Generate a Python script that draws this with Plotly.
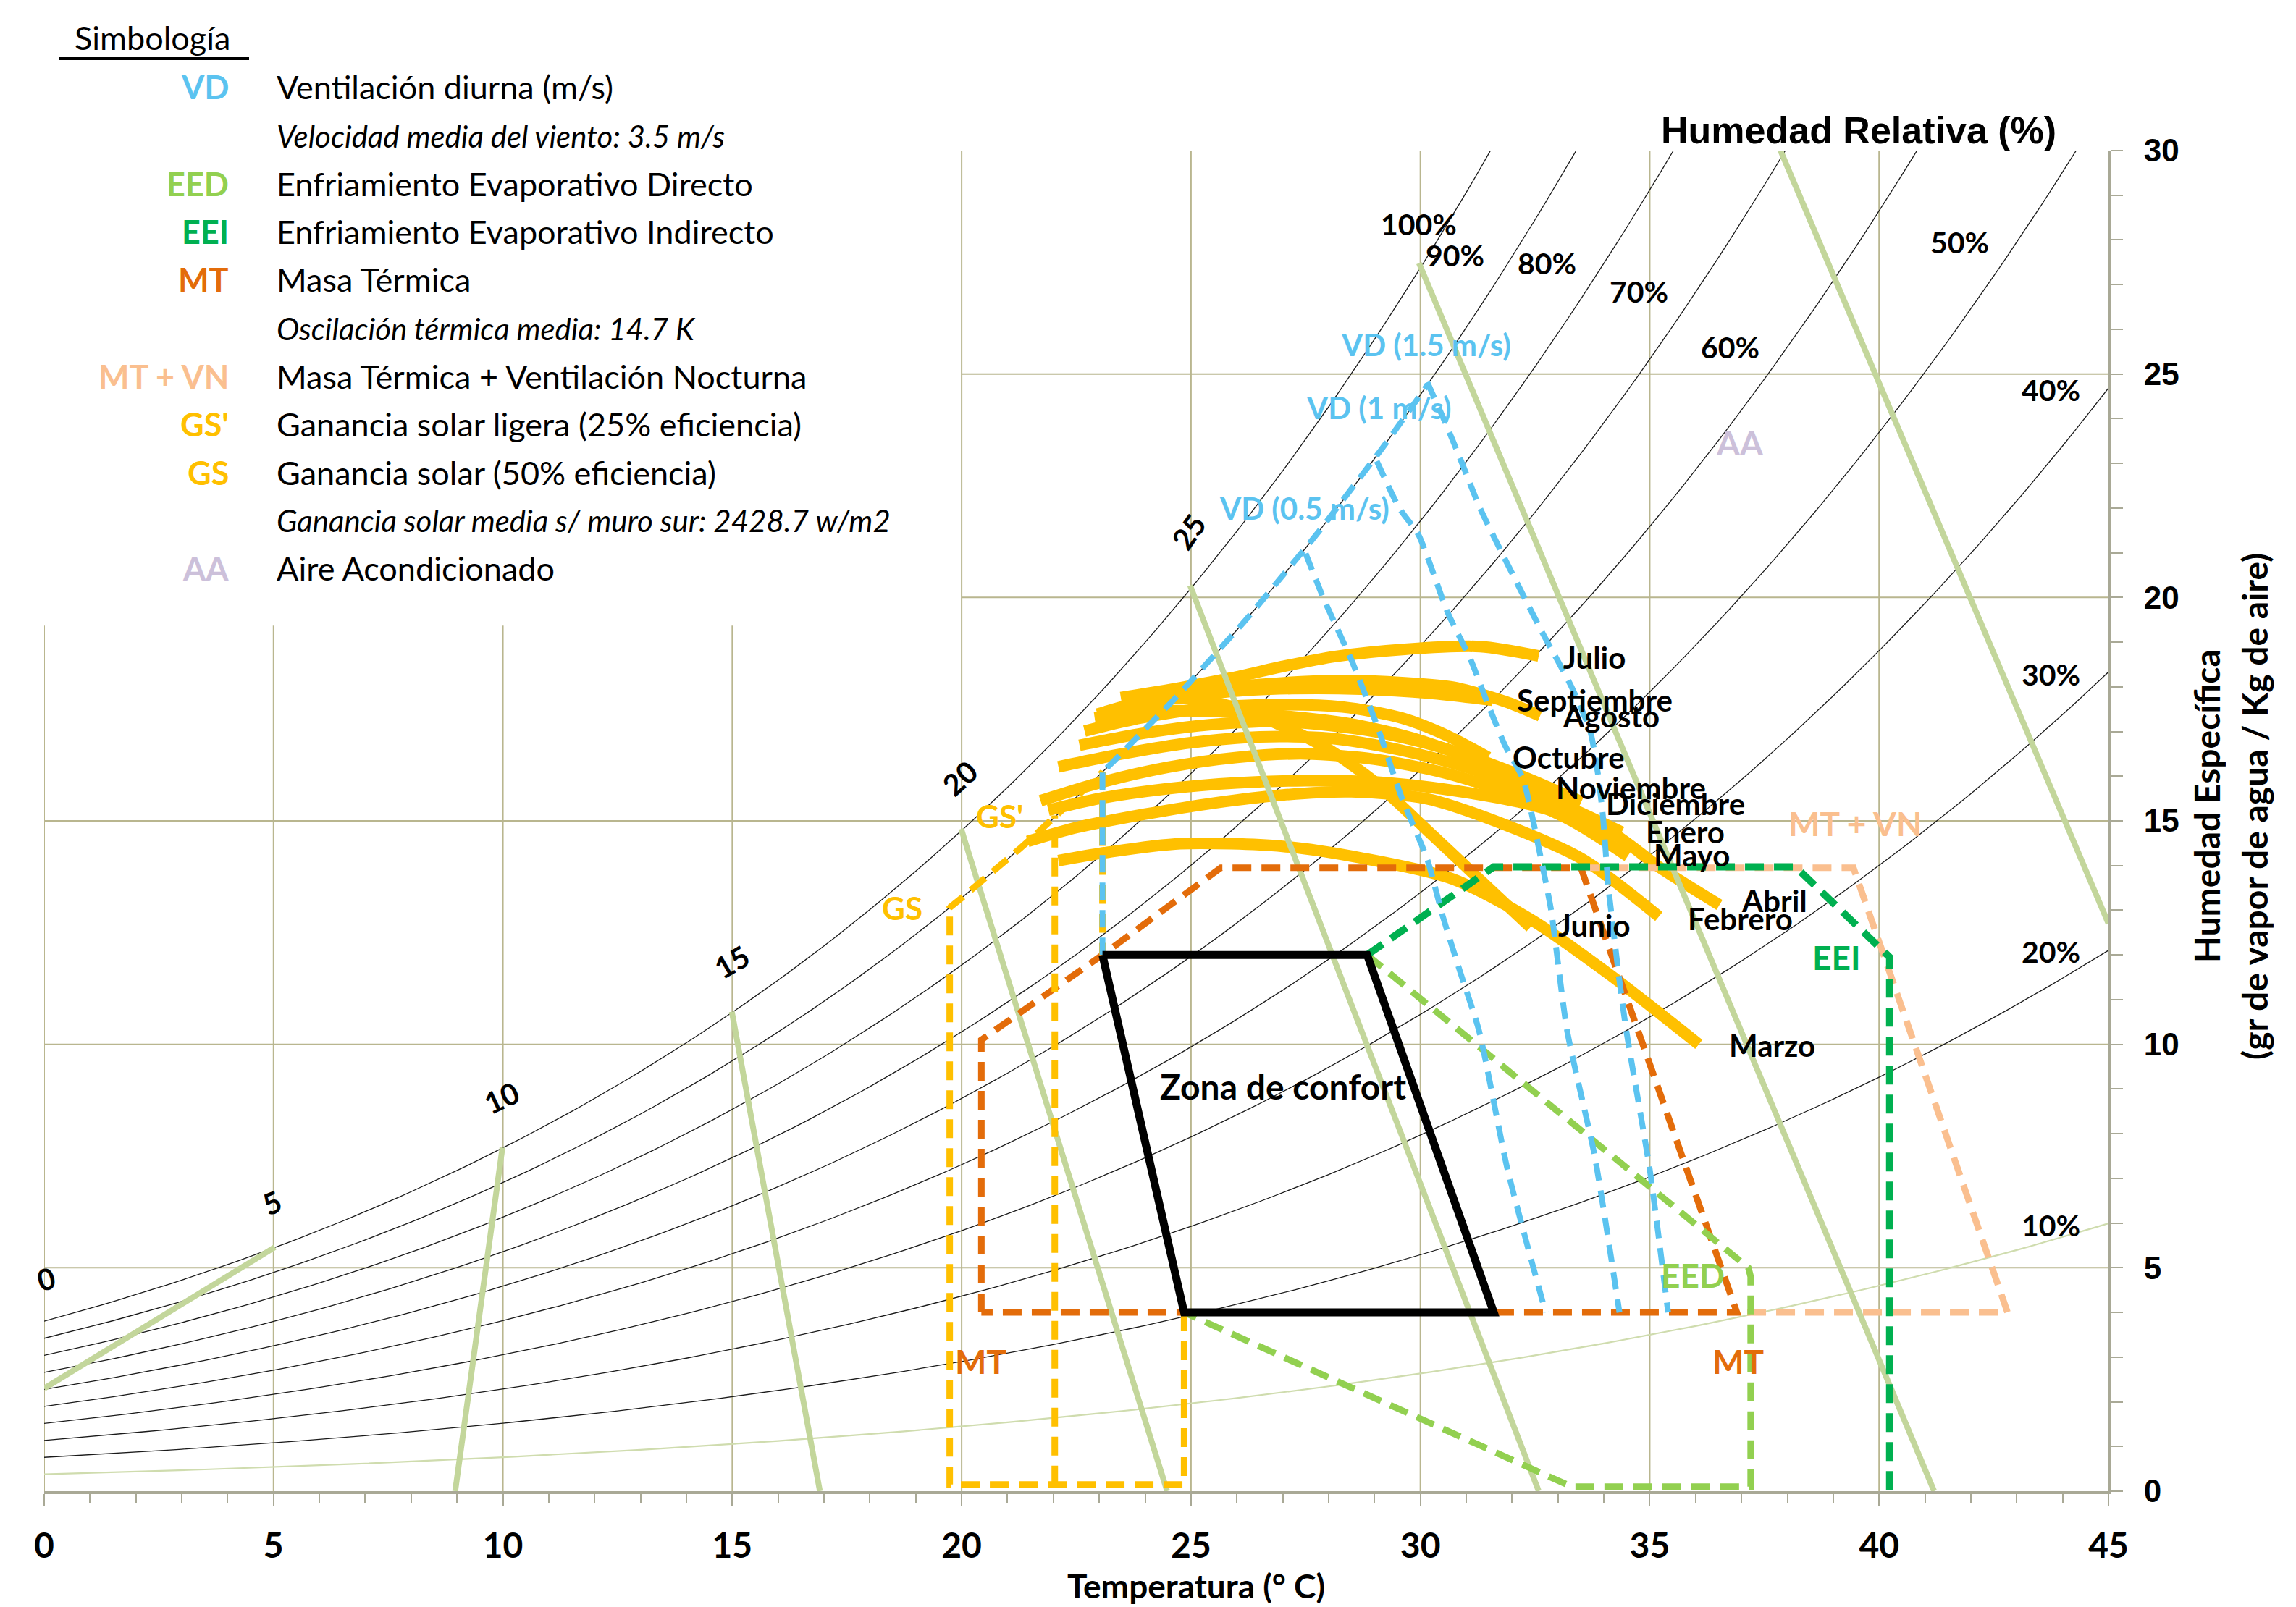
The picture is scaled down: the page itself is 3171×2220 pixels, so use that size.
import math
import plotly.graph_objects as go

# ---------------- psychrometric frame ----------------
PRESSURE_KPA = 100.5            # barometric pressure used for the humidity-ratio curves
RH_LEVELS = [10, 20, 30, 40, 50, 60, 70, 80, 90, 100]
RH_LABELS = ["10%", "20%", "30%", "40%", "50%", "60%", "70%", "80%", "90%", "100%"]
RH_LABEL_T = [43.74, 43.74, 43.74, 43.74, 41.76, 36.76, 34.76, 32.76, 30.76, 29.97]
RH_LABEL_W = [5.95, 12.07, 18.28, 24.65, 27.95, 25.6, 26.85, 27.48, 27.66, 28.35]

# Thick green reference lines (start / end points)
WB_T0 = [5.03, 9.99, 14.99, 19.99, 24.98, 29.97, 37.85]
WB_W0 = [5.46, 7.69, 10.73, 14.82, 20.27, 27.48, 30.0]
WB_T1 = [0.0, 8.96, 16.91, 24.48, 32.58, 41.2, 45.0]
WB_W1 = [2.3, 0.0, 0.0, 0.0, 0.0, 0.0, 12.7]
WB_LABELS = ["0", "5", "10", "15", "20", "25", "31"]
WB_LABEL_T = [0.05, 4.97, 9.97, 15.0, 19.97, 24.95, 30.98]
WB_LABEL_W = [4.75, 6.45, 8.8, 11.85, 15.96, 21.47, 30.04]
WB_LABEL_ANGLE = [-15, -22, -25, -30, -42, -55, 0]

# ---------------- monthly daily cycles (T °C, w g/kg) ----------------
JULIO_T = [23.47, 24.77, 25.89, 27.02, 28.15, 29.66, 31.3, 32.58]
JULIO_W = [17.76, 17.98, 18.2, 18.46, 18.68, 18.84, 18.9, 18.69]
AGOSTO_T = [23.5, 24.8, 26.46, 28.15, 29.66, 30.72, 31.85, 32.61]
AGOSTO_W = [17.66, 17.87, 18.05, 18.14, 18.09, 17.99, 17.67, 17.35]
SEPTIEMBRE_T = [23.2, 24.4, 25.7, 27.2, 28.7, 30.2, 31.57]
SEPTIEMBRE_W = [17.45, 17.7, 17.88, 17.96, 17.95, 17.86, 17.7]
OCTUBRE_T = [22.68, 23.9, 25.3, 26.8, 28.3, 29.6, 30.6, 31.48]
OCTUBRE_W = [17.01, 17.3, 17.52, 17.6, 17.55, 17.3, 16.9, 16.42]
NOVIEMBRE_T = [22.9, 24.1, 25.5, 27.0, 28.6, 30.0, 31.3, 32.42]
NOVIEMBRE_W = [17.3, 17.45, 17.45, 17.35, 17.15, 16.8, 16.3, 15.75]
DICIEMBRE_T = [22.57, 23.9, 25.4, 27.0, 29.0, 30.6, 32.1, 33.51]
DICIEMBRE_W = [16.69, 16.95, 17.15, 17.22, 17.0, 16.6, 16.05, 15.43]
ENERO_T = [22.11, 23.5, 25.0, 26.5, 28.0, 29.5, 31.0, 32.7, 34.39]
ENERO_W = [16.21, 16.5, 16.75, 16.88, 16.85, 16.6, 16.2, 15.55, 14.75]
FEBRERO_T = [21.44, 22.5, 24.0, 25.5, 27.0, 28.5, 30.16, 31.85, 33.54, 35.2]
FEBRERO_W = [14.54, 14.85, 15.15, 15.4, 15.58, 15.65, 15.49, 14.91, 14.14, 12.86]
MARZO_T = [22.11, 23.2, 24.77, 27.0, 28.71, 30.7, 32.4, 34.1, 36.07]
MARZO_W = [14.11, 14.3, 14.49, 14.43, 14.17, 13.7, 12.8, 11.58, 10.0]
ABRIL_T = [21.89, 23.0, 24.5, 26.0, 27.5, 29.03, 30.72, 32.41, 34.1, 35.23, 36.52]
ABRIL_W = [15.24, 15.5, 15.72, 15.85, 15.9, 15.87, 15.68, 15.36, 14.78, 13.95, 13.12]
MAYO_T = [21.72, 23.0, 24.5, 26.0, 27.5, 29.0, 30.5, 32.0, 33.3, 34.52]
MAYO_W = [15.45, 15.85, 16.2, 16.42, 16.5, 16.38, 16.08, 15.6, 15.0, 14.21]
JUNIO_T = [22.96, 24.0, 25.0, 26.0, 27.0, 28.0, 29.03, 30.16, 31.28, 32.4]
JUNIO_W = [17.39, 17.68, 17.75, 17.52, 17.12, 16.6, 15.85, 14.78, 13.7, 12.62]

MONTH_NAMES = ["Julio", "Septiembre", "Agosto", "Octubre", "Noviembre", "Diciembre",
               "Enero", "Mayo", "Abril", "Febrero", "Junio", "Marzo"]
MONTH_LABEL_T = [33.08, 32.07, 33.06, 31.98, 32.92, 34.01, 34.89, 35.06, 36.96, 35.8, 32.97, 36.7]
MONTH_LABEL_W = [18.66, 17.7, 17.35, 16.42, 15.75, 15.39, 14.75, 14.24, 13.22, 12.81, 12.67, 9.98]

# ---------------- comfort zone and design strategies ----------------
CONFORT_T = [23.07, 28.84, 31.6, 24.85, 23.07]
CONFORT_W = [12.0, 12.0, 4.0, 4.0, 12.0]

MT_T = [20.43, 20.43, 23.07, 25.65, 33.5, 36.9, 20.43]
MT_W = [4.0, 10.1, 12.0, 13.95, 13.95, 4.0, 4.0]

MTVN_T = [33.5, 39.44, 42.8, 36.9]
MTVN_W = [13.95, 13.95, 4.0, 4.0]

EEI_T = [28.84, 31.6, 38.18, 40.23, 40.23]
EEI_W = [12.0, 13.97, 13.97, 11.95, 0.0]

EED_T = [28.84, 37.15, 37.2, 37.2, 33.3, 24.85]
EED_W = [12.0, 5.0, 4.8, 0.1, 0.1, 4.0]

GS_LOW_T = [24.85, 24.85, 19.74, 19.74]        # then follows 90 % RH up to 23.07
GS_LOW_W = [4.0, 0.15, 0.15, 13.09]
GS_RH = 90
GS_RH_T = [19.74, 23.07]
GS_INNER_T = [22.03, 22.03]                    # GS' boundary
GS_INNER_W = [0.15, 15.12]

VD_STEM_T = [23.07, 23.07]
VD_STEM_W = [12.0, 16.13]
VD_RH_T = [23.07, 30.15]                       # upper edge runs along 90 % RH
VD05_T = [27.5, 27.88, 28.51, 29.06, 29.6, 30.15, 30.49, 30.88, 31.28, 31.9, 32.73]
VD05_W = [20.98, 20.0, 18.57, 17.12, 15.5, 14.14, 12.86, 11.58, 10.3, 7.2, 4.0]
VD10_T = [29.05, 29.54, 29.96, 30.6, 31.1, 31.45, 31.84, 32.24, 32.63, 32.85, 33.2, 33.8, 34.34]
VD10_W = [23.05, 22.0, 21.4, 19.65, 18.6, 17.67, 16.7, 15.93, 14.15, 13.0, 10.3, 7.5, 4.0]
VD15_T = [30.15, 30.54, 30.91, 31.3, 32.63, 32.97, 33.3, 33.7, 33.87, 33.98, 34.1, 34.21, 34.32, 34.49, 35.0, 35.4]
VD15_W = [24.82, 23.92, 23.0, 22.0, 19.27, 18.63, 17.99, 17.02, 16.06, 15.1, 13.5, 12.54, 11.58, 10.3, 7.2, 4.0]

# ---------------- colours ----------------
C_VD = "#5bc3f0"
C_EED = "#92d050"
C_EEI = "#00b050"
C_MT = "#e36c0a"
C_MTVN = "#fabf8f"
C_GS = "#ffc000"
C_AA = "#ccc0da"
C_WB = "#c3d69b"
C_GRID = "#b9b68f"
C_AXIS = "#a9a996"

# ---------------- legend block ----------------
LEGEND_ABBR = ["VD", "", "EED", "EEI", "MT", "", "MT + VN", "GS'", "GS", "", "AA"]
LEGEND_ABBR_COLOR = [C_VD, None, C_EED, C_EEI, C_MT, None, C_MTVN, C_GS, C_GS, None, C_AA]
LEGEND_TEXT = [
    "Ventilación diurna (m/s)",
    "<i>Velocidad media del viento: 3.5 m/s</i>",
    "Enfriamiento Evaporativo Directo",
    "Enfriamiento Evaporativo Indirecto",
    "Masa Térmica",
    "<i>Oscilación térmica media: 14.7 K</i>",
    "Masa Térmica + Ventilación Nocturna",
    "Ganancia solar ligera (25% eficiencia)",
    "Ganancia solar (50% eficiencia)",
    "<i>Ganancia solar media s/ muro sur: 2428.7 w/m2</i>",
    "Aire Acondicionado",
]
LEGEND_ROW_PX = [120, 188, 254, 320, 386, 454, 520, 586, 653, 719, 785]

# ---------------- page geometry ----------------
W_PX, H_PX = 3171, 2220
L_M, R_M, T_M, B_M = 61, 259, 208, 160
PLOT_W = W_PX - L_M - R_M
PLOT_H = H_PX - T_M - B_M
FONT = "Lato"
FONT_AXIS = "Liberation Sans"
DASH = "26px,14px"


def paper_x(px):
    return (px - L_M) / PLOT_W


def paper_y(py):
    return (H_PX - B_M - py) / PLOT_H


def psat(t):
    """Saturation vapour pressure of water (kPa), Magnus form."""
    return 0.61094 * math.exp(17.625 * t / (t + 243.04))


def humidity_ratio(t, rh):
    p = rh / 100.0 * psat(t)
    return 622.0 * p / (PRESSURE_KPA - p)


def rh_segment(t0, t1, rh, step=0.25):
    n = max(2, int(round((t1 - t0) / step)) + 1)
    ts = [t0 + (t1 - t0) * i / (n - 1) for i in range(n)]
    return ts, [humidity_ratio(t, rh) for t in ts]


fig = go.Figure()


def add_line(xs, ys, color, width, dash=None, shape="linear", smoothing=None):
    line = dict(color=color, width=width, shape=shape)
    if dash:
        line["dash"] = dash
    if smoothing is not None:
        line["smoothing"] = smoothing
    fig.add_trace(go.Scatter(x=xs, y=ys, mode="lines", line=line,
                             hoverinfo="skip", showlegend=False))


# relative humidity curves
for rh in RH_LEVELS:
    ts, ws = rh_segment(0.0, 45.0, rh)
    keep_t, keep_w = [], []
    for t, w in zip(ts, ws):
        keep_t.append(t)
        keep_w.append(w)
        if w > 30.5:
            break
    color = "#cfdcae" if rh == 10 else "#1a1a1a"
    width = 2.2 if rh == 10 else 1.3
    add_line(keep_t, keep_w, color, width)

# monthly daily cycles
MONTHS = [
    (JULIO_T, JULIO_W), (AGOSTO_T, AGOSTO_W), (SEPTIEMBRE_T, SEPTIEMBRE_W),
    (OCTUBRE_T, OCTUBRE_W), (NOVIEMBRE_T, NOVIEMBRE_W), (DICIEMBRE_T, DICIEMBRE_W),
    (ENERO_T, ENERO_W), (FEBRERO_T, FEBRERO_W), (MARZO_T, MARZO_W),
    (ABRIL_T, ABRIL_W), (MAYO_T, MAYO_W), (JUNIO_T, JUNIO_W),
]
for mt, mw in MONTHS:
    add_line(mt, mw, C_GS, 16, shape="spline", smoothing=0.8)

# green reference lines
for t0, w0, t1, w1 in zip(WB_T0, WB_W0, WB_T1, WB_W1):
    add_line([t0, t1], [w0, w1], C_WB, 8)

# design strategy boundaries
add_line(MTVN_T, MTVN_W, C_MTVN, 9, dash=DASH)
add_line(MT_T, MT_W, C_MT, 9, dash=DASH)
add_line(EED_T, EED_W, C_EED, 9, dash=DASH)
add_line(EEI_T, EEI_W, C_EEI, 10, dash=DASH)

gs_t, gs_w = rh_segment(GS_RH_T[0], GS_RH_T[1], GS_RH)
add_line(GS_LOW_T + gs_t + [23.07], GS_LOW_W + gs_w + [12.0], C_GS, 9, dash=DASH)
add_line(GS_INNER_T, GS_INNER_W, C_GS, 9, dash=DASH)

VD_DASH = "24px,14px"
vd_t, vd_w = rh_segment(VD_RH_T[0], VD_RH_T[1], GS_RH)
add_line(VD_STEM_T + vd_t, VD_STEM_W + vd_w, C_VD, 8, dash=VD_DASH)
add_line(VD05_T, VD05_W, C_VD, 8, dash=VD_DASH, shape="spline", smoothing=0.6)
add_line(VD10_T, VD10_W, C_VD, 8, dash=VD_DASH, shape="spline", smoothing=0.6)
add_line(VD15_T, VD15_W, C_VD, 8, dash=VD_DASH, shape="spline", smoothing=0.6)

# comfort zone
add_line(CONFORT_T, CONFORT_W, "black", 11)

# ---------------- grid drawn as shapes (upper-left kept clear for the legend) ----------------
shapes = []
LEGEND_FLOOR = 19.37
for gx in range(0, 46, 5):
    top = 30 if gx >= 20 else LEGEND_FLOOR
    shapes.append(dict(type="line", xref="x", yref="y", x0=gx, x1=gx, y0=0, y1=top,
                       line=dict(color=C_GRID, width=2), layer="below"))
for gy in range(5, 31, 5):
    left = 0 if gy < LEGEND_FLOOR else 20
    shapes.append(dict(type="line", xref="x", yref="y", x0=left, x1=45, y0=gy, y1=gy,
                       line=dict(color=C_GRID, width=2), layer="below"))
# underline of the legend heading
shapes.append(dict(type="line", xref="paper", yref="paper",
                   x0=paper_x(81), x1=paper_x(344), y0=paper_y(81), y1=paper_y(81),
                   line=dict(color="black", width=4)))

# ---------------- annotations ----------------
ann = []


def label(x, y, text, size, color="black", bold=True, xanchor="center", yanchor="middle",
          angle=0, xref="x", yref="y", family=FONT):
    t = f"<b>{text}</b>" if bold else text
    ann.append(dict(x=x, y=y, xref=xref, yref=yref, text=t, showarrow=False,
                    xanchor=xanchor, yanchor=yanchor, textangle=angle,
                    font=dict(family=family, size=size, color=color)))


for txt, x, y in zip(RH_LABELS, RH_LABEL_T, RH_LABEL_W):
    label(x, y, txt, 41)
for txt, x, y, a in zip(WB_LABELS, WB_LABEL_T, WB_LABEL_W, WB_LABEL_ANGLE):
    label(x, y, txt, 41, angle=a)
for txt, x, y in zip(MONTH_NAMES, MONTH_LABEL_T, MONTH_LABEL_W):
    label(x, y, txt, 42, xanchor="left")

label(30.13, 25.66, "VD (1.5 m/s)", 42, color=C_VD)
label(29.1, 24.25, "VD (1 m/s)", 42, color=C_VD)
label(27.47, 22.0, "VD (0.5 m/s)", 42, color=C_VD)
label(36.97, 23.47, "AA", 46, color=C_AA)
label(39.47, 14.95, "MT + VN", 46, color=C_MTVN)
label(39.08, 11.94, "EEI", 46, color=C_EEI)
label(35.94, 4.83, "EED", 46, color=C_EED)
label(36.93, 2.9, "MT", 46, color=C_MT)
label(20.42, 2.9, "MT", 46, color=C_MT)
label(18.7, 13.06, "GS", 44, color=C_GS)
label(20.83, 15.12, "GS'", 44, color=C_GS)
label(27.0, 9.06, "Zona de confort", 48)

# axis titles
label(paper_x(2567), paper_y(180), "Humedad Relativa (%)", 52, xref="paper", yref="paper",
      family=FONT_AXIS)
label(paper_x(1652), paper_y(2190), "Temperatura (° C)", 46, xref="paper", yref="paper")
label(paper_x(3047), paper_y(1114), "Humedad Específica", 48, xref="paper", yref="paper",
      angle=-90)
label(paper_x(3113), paper_y(1114), "(gr de vapor de agua / Kg de aire)", 48,
      xref="paper", yref="paper", angle=-90)

# legend block
label(paper_x(101), paper_y(52), "Simbología", 45, bold=False, xanchor="left",
      xref="paper", yref="paper")
for abbr, col, txt, py in zip(LEGEND_ABBR, LEGEND_ABBR_COLOR, LEGEND_TEXT, LEGEND_ROW_PX):
    if abbr:
        label(paper_x(318), paper_y(py), abbr, 45, color=col, xanchor="right",
              xref="paper", yref="paper")
    size = 42 if txt.startswith("<i>") else 45
    label(paper_x(380), paper_y(py), txt, size, bold=False, xanchor="left",
          xref="paper", yref="paper")

fig.update_layout(
    width=W_PX, height=H_PX,
    margin=dict(l=L_M, r=R_M, t=T_M, b=B_M, pad=0),
    paper_bgcolor="white", plot_bgcolor="white",
    shapes=shapes, annotations=ann, showlegend=False,
    xaxis=dict(range=[0, 45], showgrid=False, zeroline=False,
               showline=True, linecolor=C_AXIS, linewidth=4,
               tickmode="array", tickvals=list(range(0, 46, 5)),
               ticks="outside", ticklen=16, tickwidth=2, tickcolor=C_AXIS,
               minor=dict(dtick=1, ticks="outside", ticklen=12, tickwidth=2, tickcolor=C_AXIS),
               ticklabelstandoff=14,
               tickfont=dict(family=FONT, size=48, color="black", weight="bold")),
    yaxis=dict(range=[0, 30], side="right", showgrid=False, zeroline=False,
               showline=True, linecolor=C_AXIS, linewidth=4,
               tickmode="array", tickvals=list(range(0, 31, 5)),
               ticks="outside", ticklen=16, tickwidth=2, tickcolor=C_AXIS,
               minor=dict(dtick=1, ticks="outside", ticklen=16, tickwidth=2, tickcolor=C_AXIS),
               ticklabelstandoff=20,
               tickfont=dict(family=FONT_AXIS, size=44, color="black", weight="bold")),
)

fig.write_html("out.html")
